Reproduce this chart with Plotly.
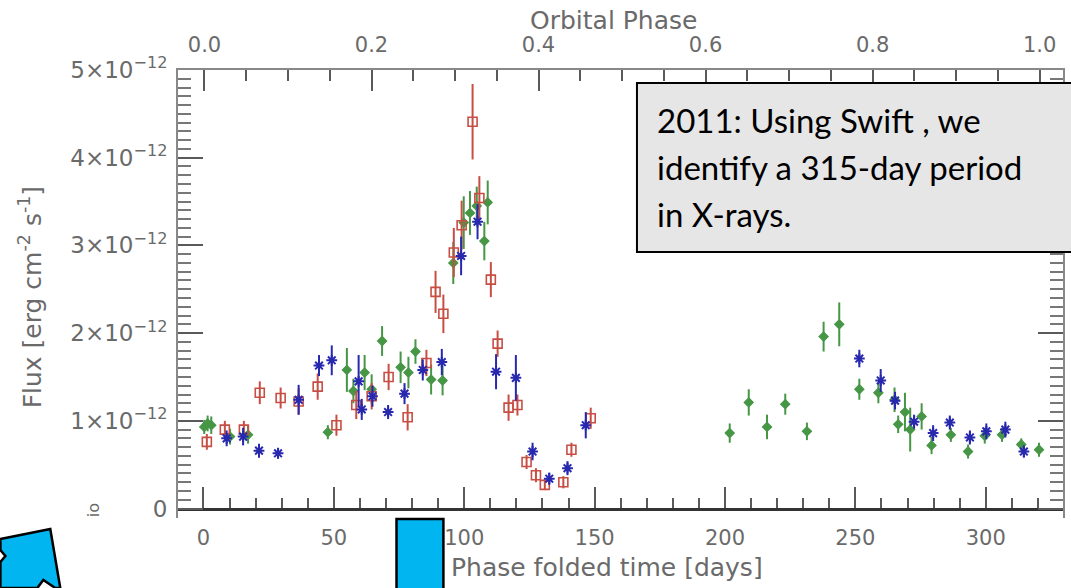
import plotly.graph_objects as go

# Swift light curve folded on a 315-day orbital period.
# Flux values are in units of 1e-12 erg cm^-2 s^-1.

red_days = [1.3, 8.2, 15.5, 21.6, 29.6, 36.5, 43.8, 51.0, 58.6, 64.5, 71.0, 78.3,
            85.5, 89.0, 92.0, 96.0, 99.0, 103.2, 105.8, 110.2, 112.8, 117.0, 120.4,
            123.9, 127.5, 130.9, 138.0, 141.1, 148.5]
red_flux = [0.76, 0.90, 0.90, 1.32, 1.26, 1.22, 1.39, 0.95, 1.18, 1.28, 1.50, 1.04,
            1.66, 2.47, 2.22, 2.92, 3.23, 4.41, 3.54, 2.61, 1.88, 1.15, 1.18,
            0.53, 0.38, 0.27, 0.30, 0.67, 1.03]
red_err = [0.09, 0.10, 0.10, 0.13, 0.12, 0.15, 0.15, 0.12, 0.16, 0.15, 0.15, 0.15,
           0.15, 0.24, 0.22, 0.28, 0.28, 0.43, 0.25, 0.20, 0.15, 0.15, 0.12,
           0.08, 0.08, 0.06, 0.07, 0.08, 0.12]

blue_days = [8.9, 15.2, 21.3, 28.6, 36.5, 44.3, 49.2, 59.5, 60.7, 64.8, 70.8, 77.1,
             84.1, 91.4, 98.8, 105.1, 112.2, 119.8, 126.2, 132.6, 139.6, 146.6,
             251.5, 259.7, 265.2, 272.5, 279.8, 286.2, 293.9, 300.2, 307.5, 314.6]
blue_flux = [0.80, 0.82, 0.66, 0.63, 1.24, 1.63, 1.69, 1.45, 1.13, 1.28, 1.10, 1.31,
             1.58, 1.67, 2.88, 3.27, 1.56, 1.49, 0.65, 0.34, 0.46, 0.95,
             1.71, 1.46, 1.23, 0.99, 0.86, 0.98, 0.81, 0.88, 0.90, 0.65]
blue_err = [0.09, 0.10, 0.08, 0.06, 0.17, 0.12, 0.17, 0.30, 0.12, 0.12, 0.08, 0.12,
            0.12, 0.15, 0.22, 0.20, 0.20, 0.26, 0.10, 0.07, 0.08, 0.15,
            0.10, 0.13, 0.10, 0.08, 0.09, 0.08, 0.08, 0.09, 0.09, 0.07]

green_days = [0.3, 1.6, 3.0, 10.2, 17.1, 47.7, 55.0, 57.5, 61.8, 64.5, 68.5, 75.6,
              78.6, 81.3, 87.3, 91.7, 95.8, 99.8, 102.2, 104.8, 107.7, 109.0,
              201.8, 209.1, 216.1, 223.1, 231.4, 237.8, 243.8, 251.5, 258.8, 265.0,
              266.4, 269.0, 271.0, 275.4, 279.2, 286.6, 293.2, 299.6, 306.2, 313.6,
              320.4]
green_flux = [0.93, 0.97, 0.95, 0.82, 0.84, 0.87, 1.58, 1.34, 1.55, 1.36, 1.91, 1.61,
              1.55, 1.79, 1.47, 1.46, 2.80, 3.26, 3.37, 3.45, 3.05, 3.49,
              0.86, 1.21, 0.93, 1.19, 0.88, 1.96, 2.10, 1.36, 1.32, 1.24,
              0.96, 1.10, 0.90, 1.05, 0.72, 0.84, 0.65, 0.83, 0.84, 0.73,
              0.67]
green_err = [0.08, 0.09, 0.10, 0.09, 0.10, 0.08, 0.25, 0.14, 0.20, 0.17, 0.17, 0.18,
             0.18, 0.14, 0.17, 0.17, 0.24, 0.30, 0.25, 0.22, 0.22, 0.25,
             0.11, 0.15, 0.14, 0.12, 0.10, 0.17, 0.25, 0.12, 0.12, 0.14,
             0.10, 0.22, 0.25, 0.15, 0.10, 0.08, 0.08, 0.09, 0.08, 0.07,
             0.08]

flux_ticks = [0, 1, 2, 3, 4, 5]
flux_tick_text = ["0", "1×10<sup>−12</sup>", "2×10<sup>−12</sup>", "3×10<sup>−12</sup>",
                  "4×10<sup>−12</sup>", "5×10<sup>−12</sup>"]
day_ticks = [0, 50, 100, 150, 200, 250, 300]
phase_ticks = [0.0, 0.2, 0.4, 0.6, 0.8, 1.0]

note_lines = ["2011: Using Swift , we", "identify a 315-day period", "in X-rays."]

W, H = 1071, 588
L, R, T, B = 178, 1065, 70, 518
Y_MIN, Y_MAX = -0.108, 5.0
X_MIN, X_MAX = -9.76, 329.6
P_MIN, P_MAX = -0.0317, 1.028


def fx(p):
    return (p - L) / (R - L)


def fy(p):
    return (B - p) / (B - T)


AX = "#5a5a5a"
TXT = "#6a6a6a"
AXFONT = dict(family="DejaVu Sans", size=21, color=TXT)
TITLEFONT = dict(family="DejaVu Sans", size=25, color=TXT)

fig = go.Figure()


def add_series(days, flux, err, color, symbol, size, lw):
    fig.add_trace(go.Scatter(
        x=days, y=flux, mode="markers",
        marker=dict(symbol=symbol, size=size, color=color,
                    line=dict(color=color, width=lw)),
        error_y=dict(type="data", array=err, visible=True, color=color,
                     thickness=2, width=0),
        hoverinfo="skip", showlegend=False,
    ))


add_series(green_days, green_flux, green_err, "rgb(70,150,70)", "diamond", 7, 1.2)
add_series(red_days, red_flux, red_err, "rgb(200,78,68)", "square-open", 9, 1.6)
add_series(blue_days, blue_flux, blue_err, "rgb(40,40,175)", "asterisk-open", 9, 2)

# invisible trace that carries the orbital-phase axis
fig.add_trace(go.Scatter(x=[0, 1], y=[-1, -1], xaxis="x2", mode="markers",
                         marker=dict(opacity=0), hoverinfo="skip", showlegend=False))

fig.update_layout(
    width=W, height=H,
    margin=dict(l=L, r=W - R, t=T, b=H - B, pad=0),
    paper_bgcolor="white", plot_bgcolor="white",
    showlegend=False,
    xaxis=dict(
        range=[X_MIN, X_MAX], anchor="free", position=(0 - Y_MIN) / (Y_MAX - Y_MIN),
        tickvals=day_ticks, ticks="inside", ticklen=21, tickwidth=1.5, tickcolor=AX,
        minor=dict(dtick=10, tick0=0, ticks="inside", ticklen=10, tickwidth=1.5, tickcolor=AX),
        showline=True, linecolor="#333333", linewidth=2.5,
        showgrid=False, zeroline=False,
        tickfont=AXFONT, ticklabelstandoff=10,
    ),
    xaxis2=dict(
        range=[P_MIN, P_MAX], overlaying="x", side="top", anchor="y",
        tickvals=phase_ticks, ticktext=[f"{v:.1f}" for v in phase_ticks],
        ticks="inside", ticklen=21, tickwidth=1.5, tickcolor=AX,
        minor=dict(dtick=0.05, tick0=0, ticks="inside", ticklen=11, tickwidth=1.5, tickcolor=AX),
        showline=True, linecolor="#888888", linewidth=2,
        showgrid=False, zeroline=False,
        tickfont=AXFONT, ticklabelstandoff=8,
    ),
    yaxis=dict(
        range=[Y_MIN, Y_MAX], anchor="x",
        tickvals=flux_ticks, ticktext=flux_tick_text,
        ticks="inside", ticklen=25, tickwidth=1.5, tickcolor=AX,
        minor=dict(dtick=0.1, tick0=0, ticks="inside", ticklen=13, tickwidth=1.5, tickcolor="#777777"),
        showline=True, linecolor="#888888", linewidth=2, mirror="ticks",
        showgrid=False, zeroline=False,
        tickfont=dict(family="DejaVu Sans", size=23, color=TXT), ticklabelstandoff=4,
    ),
)

annotations = [
    dict(text="Orbital Phase", x=fx(614), y=fy(20), xref="paper", yref="paper",
         showarrow=False, font=TITLEFONT, xanchor="center", yanchor="middle"),
    dict(text="Phase folded time [days]", x=fx(608), y=fy(567), xref="paper", yref="paper",
         showarrow=False, font=TITLEFONT, xanchor="center", yanchor="middle"),
    dict(text="Flux [erg cm<sup>-2</sup> s<sup>-1</sup>]", x=fx(30), y=fy(297),
         xref="paper", yref="paper", textangle=-90, showarrow=False,
         font=TITLEFONT, xanchor="center", yanchor="middle"),
    dict(text="io", x=fx(93), y=fy(510), xref="paper", yref="paper", textangle=-90,
         showarrow=False, font=dict(family="DejaVu Sans", size=16, color=TXT),
         xanchor="center", yanchor="middle"),
]

# note box text
for i, line in enumerate(note_lines):
    annotations.append(dict(
        text=line, x=fx(656), y=fy(120 + 47 * i), xref="paper", yref="paper",
        showarrow=False, xanchor="left", yanchor="middle",
        font=dict(family="Lato", size=33, color="black"),
    ))

fig.update_layout(annotations=annotations)

shapes = [
    # note box
    dict(type="rect", xref="paper", yref="paper",
         x0=fx(638), x1=fx(1085), y0=fy(252), y1=fy(83),
         fillcolor="#e6e6e6", line=dict(color="black", width=2), layer="above"),
    # cyan block on the lower axis
    dict(type="rect", xref="paper", yref="paper",
         x0=fx(397), x1=fx(444), y0=fy(600), y1=fy(519),
         fillcolor="#00b5f0", line=dict(color="black", width=2.5), layer="above"),
]

arrow_pts = [(0, 539), (50, 529), (60, 588), (55, 588), (43, 580), (37, 588),
             (0, 588), (0, 562), (5, 556), (0, 550)]
path = "M " + " L ".join(f"{fx(px):.5f},{fy(py):.5f}" for px, py in arrow_pts) + " Z"
shapes.append(dict(type="path", xref="paper", yref="paper", path=path,
                   fillcolor="#00b5f0", line=dict(color="black", width=2.5), layer="above"))

fig.update_layout(shapes=shapes)

fig.write_html("out.html")
